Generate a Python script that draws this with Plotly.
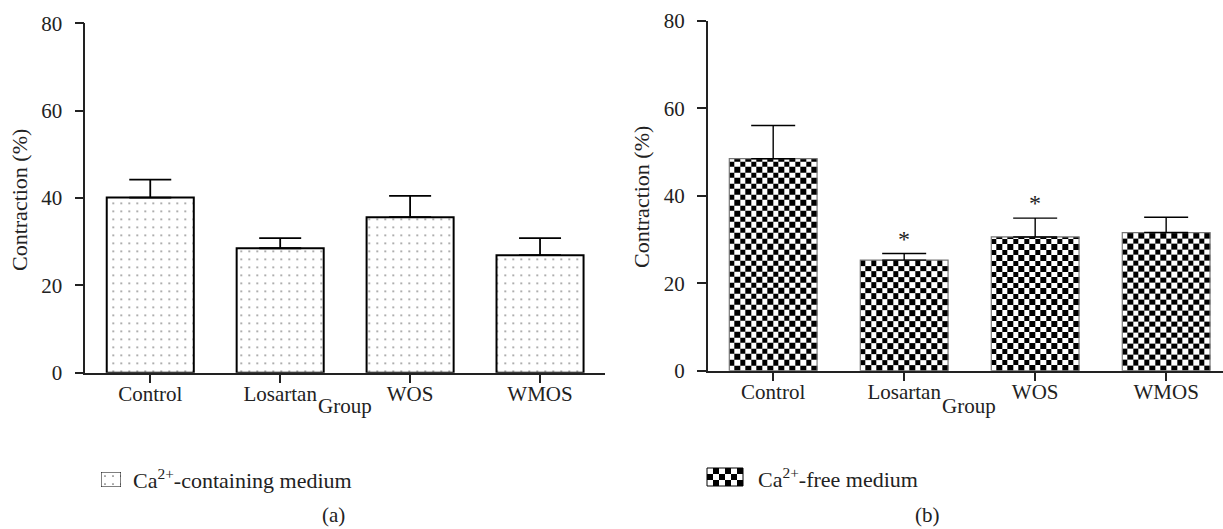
import plotly.graph_objects as go
import numpy as np

# ---------------- data ----------------
groups = ["Control", "Losartan", "WOS", "WMOS"]
ca_containing = [40.1, 28.5, 35.6, 26.9]
ca_containing_err = [4.1, 2.3, 4.9, 3.9]
ca_free = [48.5, 25.3, 30.6, 31.6]
ca_free_err = [7.6, 1.5, 4.3, 3.5]
ca_free_sig = ["", "*", "*", ""]
y_ticks = [0, 20, 40, 60, 80]

W, H = 1223, 529
FONT = "Liberation Serif"
FS = 21
FS_TITLE = 22
BAR_W = 0.67
INK = "#222"


def px(x):
    return x / W


def py(y):
    return (H - y) / H


fig = go.Figure()

# ---------- checkerboard fill for panel (b), built from bar heights ----------
ncols = 16
cell_h = 1.26
for i, v in enumerate(ca_free):
    xe = np.linspace(i - BAR_W / 2, i + BAR_W / 2, ncols + 1)
    ye = list(np.arange(0, v, cell_h))
    if v - ye[-1] > 1e-6:
        ye.append(v)
    nrows = len(ye) - 1
    z = [[(r + c) % 2 for c in range(ncols)] for r in range(nrows)]
    fig.add_trace(go.Heatmap(
        x=xe, y=ye, z=z, xaxis="x2", yaxis="y2",
        colorscale=[[0, "white"], [1, "black"]], zmin=0, zmax=1,
        showscale=False, hoverinfo="skip", zsmooth=False))

# ---------- panel (a) bars ----------
fig.add_trace(go.Bar(
    x=list(range(len(groups))), y=ca_containing, width=BAR_W,
    xaxis="x", yaxis="y",
    marker=dict(color="white", line=dict(color="black", width=2),
                pattern=dict(shape=".", fgcolor="#666", bgcolor="white",
                             size=8, solidity=0.035)),
    error_y=dict(type="data", symmetric=False, array=ca_containing_err,
                 arrayminus=[0] * 4, color="black", thickness=1.8, width=21),
    showlegend=False, hoverinfo="skip"))

# ---------- panel (b) bars (outline + error bars) ----------
fig.add_trace(go.Bar(
    x=list(range(len(groups))), y=ca_free, width=BAR_W,
    xaxis="x2", yaxis="y2",
    marker=dict(color="rgba(0,0,0,0)", line=dict(color="#777", width=1.2)),
    error_y=dict(type="data", symmetric=False, array=ca_free_err,
                 arrayminus=[0] * 4, color="black", thickness=1.4, width=22),
    showlegend=False, hoverinfo="skip"))

# ---------- legend swatches ----------
fig.add_trace(go.Bar(
    x=[0], y=[1], width=1, xaxis="x3", yaxis="y3",
    marker=dict(color="white", line=dict(color="black", width=1),
                pattern=dict(shape=".", fgcolor="#666", bgcolor="white",
                             size=8, solidity=0.035)),
    showlegend=False, hoverinfo="skip"))
fig.add_trace(go.Heatmap(
    x=np.linspace(0, 6, 7), y=np.linspace(0, 3, 4),
    z=[[(r + c) % 2 for c in range(6)] for r in range(3)],
    xaxis="x4", yaxis="y4",
    colorscale=[[0, "white"], [1, "black"]], zmin=0, zmax=1,
    showscale=False, hoverinfo="skip", zsmooth=False))

axis_common = dict(showgrid=False, zeroline=False, showline=True,
                   linecolor=INK, linewidth=1.5, ticks="outside",
                   ticklen=9, tickwidth=1.5, tickcolor=INK, automargin=False,
                   tickfont=dict(family=FONT, size=FS, color=INK))

hidden = dict(visible=False, showgrid=False, zeroline=False, fixedrange=True,
              automargin=False)

fig.update_layout(
    template="none",
    width=W, height=H,
    margin=dict(l=0, r=0, t=0, b=0, pad=0),
    paper_bgcolor="white", plot_bgcolor="white",
    showlegend=False,
    xaxis=dict(domain=[px(85.3), px(605)], range=[-0.5, 3.5],
               tickvals=list(range(4)), ticktext=groups, anchor="y",
               ticklabelstandoff=-8, **axis_common),
    yaxis=dict(domain=[py(372.7), py(23.3)], range=[0, 80],
               tickvals=y_ticks, anchor="x", ticklabelstandoff=8, **axis_common),
    xaxis2=dict(domain=[px(707.7), 1.0], range=[-0.5, 3.434],
                tickvals=list(range(4)), ticktext=groups, anchor="y2",
                ticklabelstandoff=-8, **axis_common),
    yaxis2=dict(domain=[py(370.7), py(21.0)], range=[0, 80],
                tickvals=y_ticks, anchor="x2", ticklabelstandoff=8, **axis_common),
    xaxis3=dict(domain=[px(101), px(121)], range=[-0.5, 0.5], anchor="y3", **hidden),
    yaxis3=dict(domain=[py(487), py(472)], range=[0, 1], anchor="x3", **hidden),
    xaxis4=dict(domain=[px(707), px(743)], range=[0, 6], anchor="y4", **hidden),
    yaxis4=dict(domain=[py(486), py(468)], range=[0, 3], anchor="x4", **hidden),
)

fig.add_shape(type="rect", xref="x4 domain", yref="y4 domain",
              x0=0, x1=1, y0=0, y1=1, line=dict(color="black", width=1))

font = dict(family=FONT, size=FS, color=INK)
tfont = dict(family=FONT, size=FS_TITLE, color=INK)


def pa(text, x, y, xanchor="center", f=font, **kw):
    return dict(text=text, x=px(x), y=py(y), xref="paper", yref="paper",
                xanchor=xanchor, yanchor="middle", showarrow=False, font=f, **kw)


ann = [
    pa("Contraction (%)", 20, 200, f=tfont, textangle=-90),
    pa("Contraction (%)", 641, 197, f=tfont, textangle=-90),
    pa("Group", 345, 406),
    pa("Group", 969, 406),
    pa("Ca<sup>2+</sup>-containing medium", 131, 479, xanchor="left", f=tfont),
    pa("Ca<sup>2+</sup>-free medium", 756, 478, xanchor="left", f=tfont),
    pa("(a)", 333, 515),
    pa("(b)", 927, 515),
]
# significance stars
for i, s in enumerate(ca_free_sig):
    if s:
        ann.append(dict(text=s, x=i, y=ca_free[i] + ca_free_err[i],
                        xref="x2", yref="y2", xanchor="center", yanchor="bottom",
                        showarrow=False,
                        font=dict(family=FONT, size=24, color=INK)))
fig.update_layout(annotations=ann)

fig.write_html("out.html", config={"displayModeBar": False},
               post_script="document.body.style.margin='0';")
